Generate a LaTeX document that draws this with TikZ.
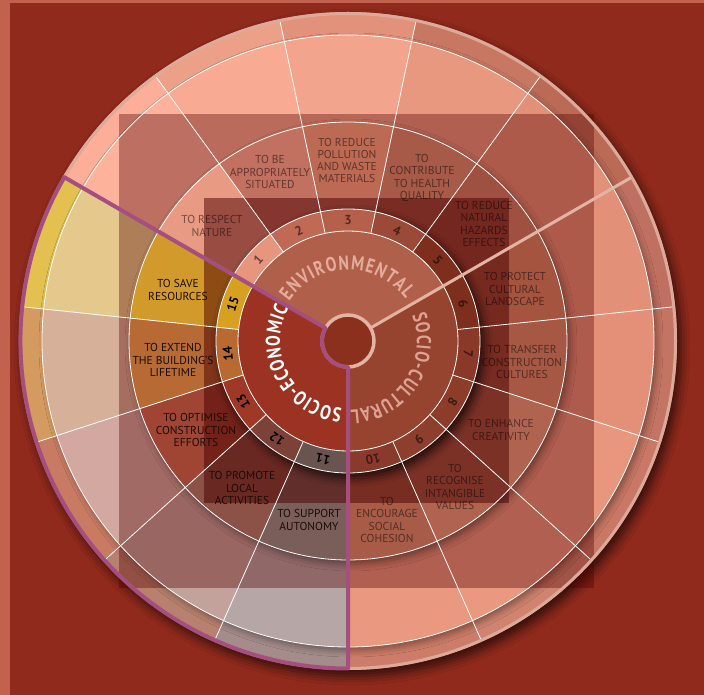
\documentclass[tikz,border=0pt]{standalone}
\usepackage{fontspec}
\setmainfont{PT Sans}
\newfontfamily\catfont[FakeStretch=0.8]{PT Sans}
\usetikzlibrary{decorations.text,shadows.blur}
\definecolor{bg}{HTML}{8F2A1C}
\definecolor{strip}{HTML}{C2624E}
\definecolor{ovA}{HTML}{520000}
\definecolor{ovB}{HTML}{4A0000}
\definecolor{edgec}{HTML}{DCAA9A}
\definecolor{lightline}{HTML}{E2B4A4}
\definecolor{purp}{HTML}{A54F80}
\definecolor{centerc}{HTML}{8C301E}
\definecolor{envd}{HTML}{B0604A}
\definecolor{scd}{HTML}{964430}
\definecolor{sed}{HTML}{9C3222}
\definecolor{envtxt}{HTML}{E4AC9C}
\definecolor{sctxt}{HTML}{DCA292}
\definecolor{selab}{HTML}{1A0C06}
% outer band
\definecolor{o1}{HTML}{FCAE98}\definecolor{o2}{HTML}{ECA088}\definecolor{o3}{HTML}{E2927A}
\definecolor{o4}{HTML}{C87862}\definecolor{o5}{HTML}{BA6A55}\definecolor{o6}{HTML}{C07060}
\definecolor{o7}{HTML}{C47462}\definecolor{o8}{HTML}{C87864}\definecolor{o9}{HTML}{D08470}
\definecolor{o10}{HTML}{CC7C68}\definecolor{o11}{HTML}{A48C8A}\definecolor{o12}{HTML}{B8806E}
\definecolor{o13}{HTML}{C87A62}\definecolor{o14}{HTML}{D49A60}\definecolor{o15}{HTML}{E3C050}
% ring 3
\definecolor{m1}{HTML}{FDB29C}\definecolor{m2}{HTML}{F8AA92}\definecolor{m3}{HTML}{F2A48C}
\definecolor{m4}{HTML}{E8987F}\definecolor{m5}{HTML}{E39078}\definecolor{m6}{HTML}{E39078}
\definecolor{m7}{HTML}{E49079}\definecolor{m8}{HTML}{E8967E}\definecolor{m9}{HTML}{EA9880}
\definecolor{m10}{HTML}{EA9880}\definecolor{m11}{HTML}{B6A6A6}\definecolor{m12}{HTML}{C4A29C}
\definecolor{m13}{HTML}{D2A8A0}\definecolor{m14}{HTML}{D6B098}\definecolor{m15}{HTML}{E4C88C}
% goals ring
\definecolor{g1}{HTML}{E99A83}\definecolor{g2}{HTML}{C27060}\definecolor{g3}{HTML}{BD6A55}
\definecolor{g4}{HTML}{A85A48}\definecolor{g5}{HTML}{A05040}\definecolor{g6}{HTML}{A4543F}
\definecolor{g7}{HTML}{A65844}\definecolor{g8}{HTML}{B06450}\definecolor{g9}{HTML}{B06450}
\definecolor{g10}{HTML}{A85C48}\definecolor{g11}{HTML}{7A5E5A}\definecolor{g12}{HTML}{8C5248}
\definecolor{g13}{HTML}{A04434}\definecolor{g14}{HTML}{B86A34}\definecolor{g15}{HTML}{D29A2A}
% number cells
\definecolor{n1}{HTML}{E8957E}\definecolor{n2}{HTML}{C06A56}\definecolor{n3}{HTML}{B4604A}
\definecolor{n4}{HTML}{9A4A36}\definecolor{n5}{HTML}{7E2E1C}\definecolor{n6}{HTML}{7E2E1C}
\definecolor{n7}{HTML}{8A3828}\definecolor{n8}{HTML}{8E3C2A}\definecolor{n9}{HTML}{8E3E2C}
\definecolor{n10}{HTML}{8A3A2C}\definecolor{n11}{HTML}{6A5450}\definecolor{n12}{HTML}{7C4238}
\definecolor{n13}{HTML}{A03828}\definecolor{n14}{HTML}{B86A30}\definecolor{n15}{HTML}{D8A020}
\begin{document}
\begin{tikzpicture}[x=1pt,y=1pt,
  goallab/.style={align=center,inner sep=0pt,font=\fontsize{11.5}{12.2}\selectfont,text=black,text opacity=0.5},
  segoal/.style={align=center,inner sep=0pt,font=\fontsize{11.5}{12.2}\selectfont,text=selab},
  numlab/.style={inner sep=0pt,font=\bfseries\fontsize{13}{13}\selectfont},
  wline/.style={draw=white,line width=0.8pt}]
\useasboundingbox (-348,-354) rectangle (356,341);
% background
\fill[bg] (-348,-354) rectangle (356,341);
\fill[strip] (-348,-354) rectangle (-338,341);
\fill[strip] (-348,338) rectangle (356,341);
% wheel shadow
\fill[bg,blur shadow={shadow xshift=4pt,shadow yshift=-6pt,shadow blur radius=9pt,shadow opacity=65}] (0,0) circle (329);
% outer band
\foreach \i in {1,...,15}{
  \pgfmathsetmacro\a{150-24*\i}\pgfmathsetmacro\b{174-24*\i}
  \fill[fill=o\i] (0,0) -- (\a:329) arc[start angle=\a,end angle=\b,radius=329] -- cycle;
}
\path[blur shadow={shadow xshift=3pt,shadow yshift=-4pt,shadow blur radius=6pt,shadow opacity=35}] (0,0) circle (306);
% ring 3
\foreach \i in {1,...,15}{
  \pgfmathsetmacro\a{150-24*\i}\pgfmathsetmacro\b{174-24*\i}
  \fill[fill=m\i] (0,0) -- (\a:306) arc[start angle=\a,end angle=\b,radius=306] -- cycle;
}
% big square overlay
\fill[ovA,fill opacity=0.37] (-229,-247) rectangle (246,227);
\path[blur shadow={shadow xshift=3pt,shadow yshift=-4pt,shadow blur radius=7pt,shadow opacity=40}] (0,0) circle (219);
% goals ring
\foreach \i in {1,...,15}{
  \pgfmathsetmacro\a{150-24*\i}\pgfmathsetmacro\b{174-24*\i}
  \fill[fill=g\i] (0,0) -- (\a:219) arc[start angle=\a,end angle=\b,radius=219] -- cycle;
}
% inner square overlay
\fill[ovB,fill opacity=0.5] (-144,-162) rectangle (161,143);
\path[blur shadow={shadow xshift=4pt,shadow yshift=-5pt,shadow blur radius=9pt,shadow opacity=75}] (0,0) circle (132);
% number cells
\foreach \i in {1,...,15}{
  \pgfmathsetmacro\a{150-24*\i}\pgfmathsetmacro\b{174-24*\i}
  \fill[fill=n\i] (0,0) -- (\a:132) arc[start angle=\a,end angle=\b,radius=132] -- cycle;
}
% inner disc
\fill[envd] (0,0) -- (30:110) arc[start angle=30,end angle=150,radius=110] -- cycle;
\fill[scd] (0,0) -- (-90:110) arc[start angle=-90,end angle=30,radius=110] -- cycle;
\fill[sed] (0,0) -- (150:110) arc[start angle=150,end angle=270,radius=110] -- cycle;
% white lines
\foreach \r in {110,132,219,306} \draw[wline] (0,0) circle (\r);
\foreach \k in {1,2,3,4,6,7,8,9,11,12,13,14}{
  \pgfmathsetmacro\a{150-24*\k}
  \draw[wline] (\a:110) -- (\a:327);
}
% outer edge
\draw[edgec,line width=3pt] (0,0) circle (327.5);
% 30 deg line
\draw[lightline,line width=3pt] (30:26) -- (30:326.5);
% center circle
\fill[centerc] (0,0) circle (26);
\draw[lightline,line width=3.5pt] (0,0) circle (26);
% socio-economic outline
\draw[purp,line width=4pt,line join=round] (150:327.5) arc[start angle=150,end angle=270,radius=327.5] -- (270:26) arc[start angle=270,end angle=150,radius=26] -- cycle;
% category labels
\path[decorate,decoration={text along path,text align={fit to path},
  text={|\color{envtxt}\catfont\bfseries\fontsize{20}{20}\selectfont|ENVIRONMENTAL}}]
  (146:71) arc[start angle=146,end angle=36,radius=71];
\path[decorate,decoration={text along path,text align={fit to path},
  text={|\color{sctxt}\catfont\bfseries\fontsize{20}{20}\selectfont|SOCIO-CULTURAL}}]
  (22:69) arc[start angle=22,end angle=-88,radius=69];
\path[decorate,decoration={text along path,text align={fit to path},
  text={|\color{white}\catfont\bfseries\fontsize{20}{20}\selectfont|SOCIO-ECONOMIC}}]
  (-95:68) arc[start angle=-95,end angle=-209,radius=68];
% numbers
\foreach \k in {1,...,10}{
  \pgfmathsetmacro\a{162-24*\k}\pgfmathsetmacro\rr{\a-90}
  \node[numlab,text=black,text opacity=0.55,rotate=\rr] (num\k) at (\a:121) {\k};
}
\foreach \k in {11,...,15}{
  \pgfmathsetmacro\a{162-24*\k}\pgfmathsetmacro\rr{\a-90}
  \node[numlab,text=black,rotate=\rr] (num\k) at (\a:121) {\k};
}
% goal labels
\node[goallab] (l1) at (-136,115) {TO RESPECT\\NATURE};
\node[goallab] (l2) at (-78,169) {TO BE\\APPROPRIATELY\\SITUATED};
\node[goallab] (l3) at (-1,180.5) {TO REDUCE\\POLLUTION\\AND WASTE\\MATERIALS};
\node[goallab] (l4) at (74,163) {TO\\CONTRIBUTE\\TO HEALTH\\QUALITY};
\node[goallab] (l5) at (136,117) {TO REDUCE\\NATURAL\\HAZARDS\\EFFECTS};
\node[goallab] (l6) at (167,52) {TO PROTECT\\CULTURAL\\LANDSCAPE};
\node[goallab] (l7) at (174,-21) {TO TRANSFER\\CONSTRUCTION\\CULTURES};
\node[goallab] (l8) at (153,-89) {TO ENHANCE\\CREATIVITY};
\node[goallab] (l9) at (107,-146) {TO\\RECOGNISE\\INTANGIBLE\\VALUES};
\node[goallab] (l10) at (39,-179) {TO\\ENCOURAGE\\SOCIAL\\COHESION};
\node[segoal] (l11) at (-39,-179) {TO SUPPORT\\AUTONOMY};
\node[segoal] (l12) at (-106,-147) {TO PROMOTE\\LOCAL\\ACTIVITIES};
\node[segoal] (l13) at (-152,-89) {TO OPTIMISE\\CONSTRUCTION\\EFFORTS};
\node[segoal] (l14) at (-175,-19) {TO EXTEND\\THE BUILDING'S\\LIFETIME};
\node[segoal] (l15) at (-170,51) {TO SAVE\\RESOURCES};
\end{tikzpicture}
\end{document}
